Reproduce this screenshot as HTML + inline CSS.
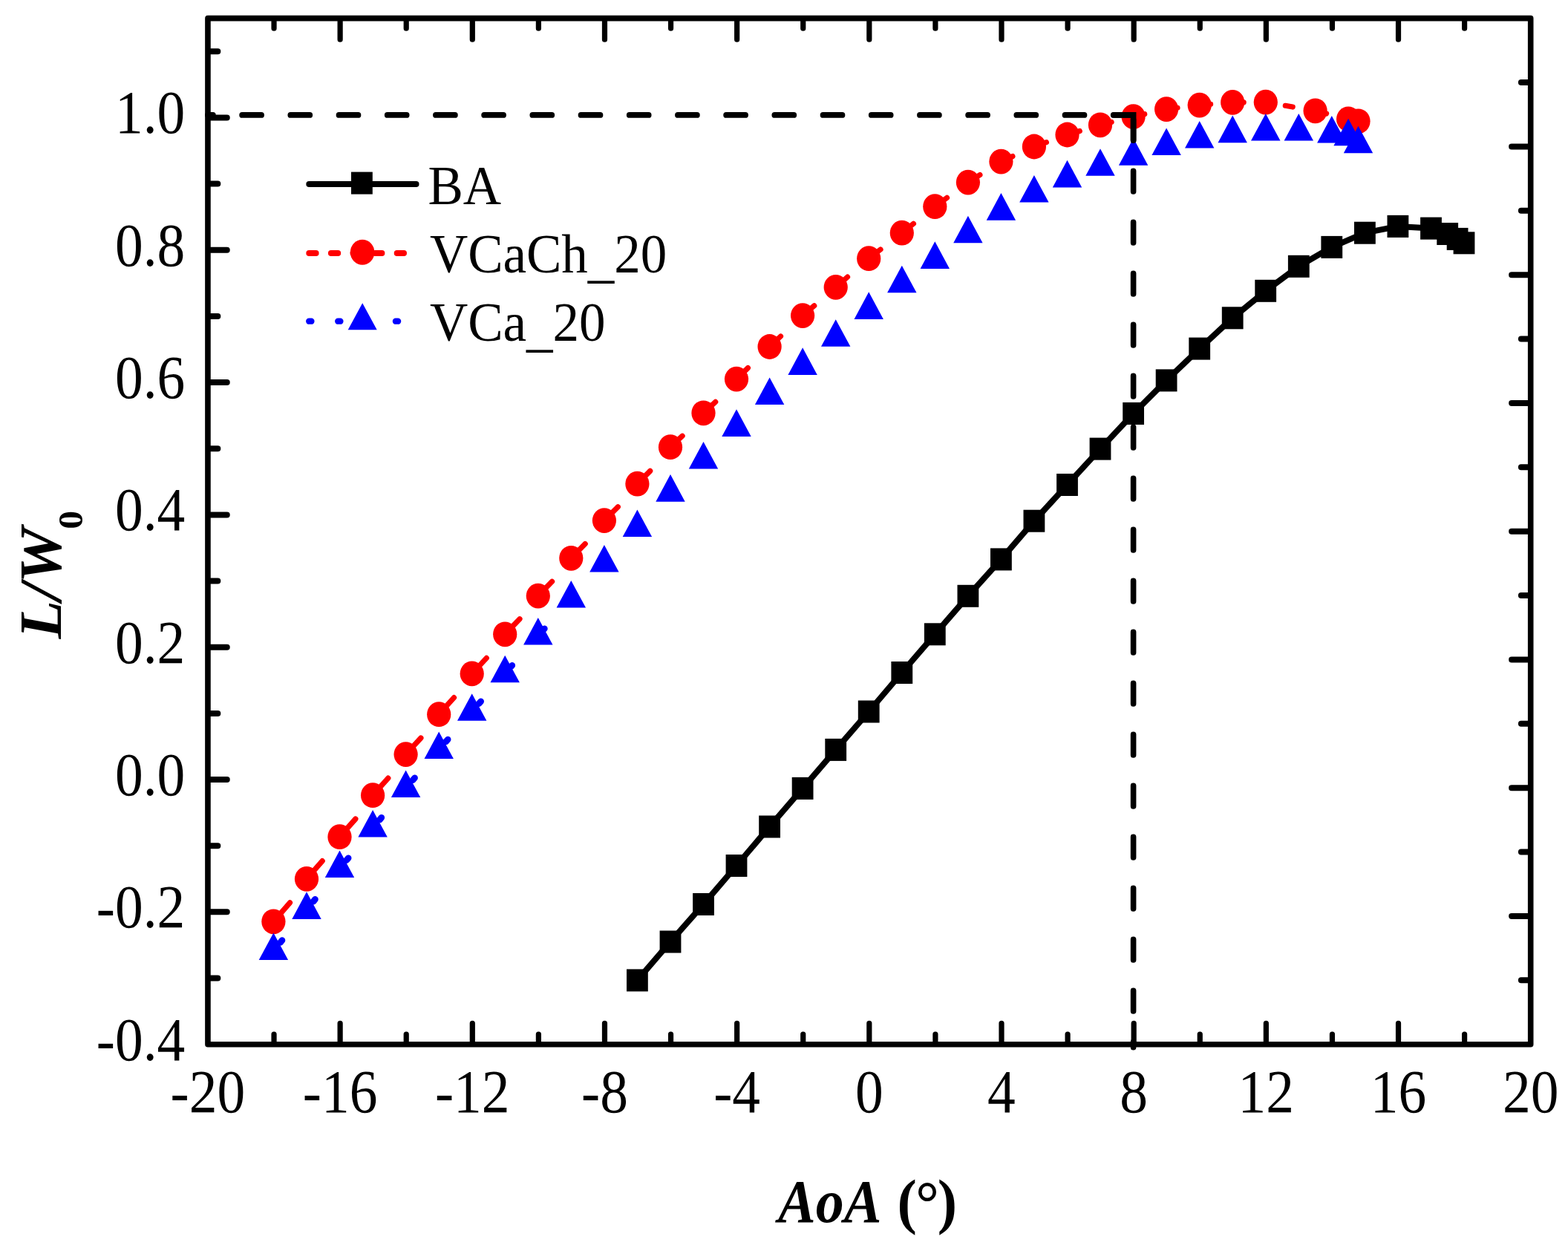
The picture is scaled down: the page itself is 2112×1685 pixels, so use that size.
<!DOCTYPE html><html><head><meta charset="utf-8"><title>L/W0 vs AoA</title><style>html,body{margin:0;padding:0;background:#fff;}svg{display:block;}text{font-family:"Liberation Serif","Times New Roman",serif;}</style></head><body>
<svg width="2112" height="1685" viewBox="0 0 2112 1685">
<rect x="0" y="0" width="2112" height="1685" fill="#fff"/>
<polyline points="858.4,1320.4 903.0,1268.5 947.5,1218.0 992.0,1166.0 1036.6,1113.5 1081.1,1061.9 1125.7,1009.9 1170.2,958.5 1214.8,906.0 1259.3,854.3 1303.9,802.8 1348.4,753.4 1392.9,701.7 1437.5,653.0 1482.0,604.6 1526.6,557.0 1571.1,512.4 1615.7,469.6 1660.2,428.3 1704.8,391.8 1749.3,358.8 1793.8,332.9 1838.4,313.7 1882.9,304.9 1927.5,307.6 1949.7,315.0 1963.1,321.9 1972.0,327.3" fill="none" stroke="#000" stroke-width="8" stroke-linejoin="round"/>
<line x1="368.4" y1="1241.3" x2="390.5" y2="1215.8" stroke="#f00" stroke-width="7.2" stroke-linecap="round"/>
<line x1="413.0" y1="1183.9" x2="434.2" y2="1159.6" stroke="#f00" stroke-width="7.2" stroke-linecap="round"/>
<line x1="457.5" y1="1127.2" x2="478.9" y2="1103.0" stroke="#f00" stroke-width="7.2" stroke-linecap="round"/>
<line x1="502.1" y1="1071.2" x2="522.8" y2="1048.1" stroke="#f00" stroke-width="7.2" stroke-linecap="round"/>
<line x1="546.6" y1="1016.1" x2="566.9" y2="994.0" stroke="#f00" stroke-width="7.2" stroke-linecap="round"/>
<line x1="591.2" y1="962.2" x2="611.5" y2="939.6" stroke="#f00" stroke-width="7.2" stroke-linecap="round"/>
<line x1="635.7" y1="907.4" x2="655.3" y2="886.4" stroke="#f00" stroke-width="7.2" stroke-linecap="round"/>
<line x1="680.2" y1="854.3" x2="700.0" y2="833.7" stroke="#f00" stroke-width="7.2" stroke-linecap="round"/>
<line x1="724.8" y1="802.6" x2="743.6" y2="783.3" stroke="#f00" stroke-width="7.2" stroke-linecap="round"/>
<line x1="769.3" y1="751.8" x2="788.2" y2="732.5" stroke="#f00" stroke-width="7.2" stroke-linecap="round"/>
<line x1="813.9" y1="701.1" x2="832.3" y2="682.7" stroke="#f00" stroke-width="7.2" stroke-linecap="round"/>
<line x1="858.4" y1="651.7" x2="875.7" y2="634.4" stroke="#f00" stroke-width="7.2" stroke-linecap="round"/>
<line x1="903.0" y1="602.2" x2="919.1" y2="587.2" stroke="#f00" stroke-width="7.2" stroke-linecap="round"/>
<line x1="947.5" y1="556.3" x2="963.7" y2="541.4" stroke="#f00" stroke-width="7.2" stroke-linecap="round"/>
<line x1="992.0" y1="510.6" x2="1007.4" y2="495.6" stroke="#f00" stroke-width="7.2" stroke-linecap="round"/>
<line x1="1036.6" y1="467.0" x2="1051.5" y2="453.0" stroke="#f00" stroke-width="7.2" stroke-linecap="round"/>
<line x1="1081.1" y1="425.1" x2="1096.7" y2="411.8" stroke="#f00" stroke-width="7.2" stroke-linecap="round"/>
<line x1="1125.7" y1="386.9" x2="1141.5" y2="373.1" stroke="#f00" stroke-width="7.2" stroke-linecap="round"/>
<line x1="1170.2" y1="348.2" x2="1186.0" y2="336.0" stroke="#f00" stroke-width="7.2" stroke-linecap="round"/>
<line x1="1214.8" y1="313.7" x2="1230.4" y2="301.2" stroke="#f00" stroke-width="7.2" stroke-linecap="round"/>
<line x1="1259.3" y1="278.2" x2="1275.5" y2="266.4" stroke="#f00" stroke-width="7.2" stroke-linecap="round"/>
<line x1="1303.9" y1="245.6" x2="1319.9" y2="235.5" stroke="#f00" stroke-width="7.2" stroke-linecap="round"/>
<line x1="1348.4" y1="217.6" x2="1363.9" y2="210.6" stroke="#f00" stroke-width="7.2" stroke-linecap="round"/>
<line x1="1392.9" y1="197.5" x2="1409.4" y2="191.6" stroke="#f00" stroke-width="7.2" stroke-linecap="round"/>
<line x1="1437.5" y1="181.5" x2="1454.3" y2="176.5" stroke="#f00" stroke-width="7.2" stroke-linecap="round"/>
<line x1="1482.0" y1="168.3" x2="1497.1" y2="164.5" stroke="#f00" stroke-width="7.2" stroke-linecap="round"/>
<line x1="1526.6" y1="157.1" x2="1541.7" y2="153.7" stroke="#f00" stroke-width="7.2" stroke-linecap="round"/>
<line x1="1571.1" y1="147.1" x2="1586.0" y2="145.3" stroke="#f00" stroke-width="7.2" stroke-linecap="round"/>
<line x1="1615.7" y1="141.6" x2="1630.6" y2="140.4" stroke="#f00" stroke-width="7.2" stroke-linecap="round"/>
<line x1="1660.2" y1="137.9" x2="1675.2" y2="137.8" stroke="#f00" stroke-width="7.2" stroke-linecap="round"/>
<line x1="1731.3" y1="142.3" x2="1741.2" y2="144.0" stroke="#f00" stroke-width="7.2" stroke-linecap="round"/>
<line x1="1771.6" y1="149.3" x2="1786.6" y2="153.0" stroke="#f00" stroke-width="7.2" stroke-linecap="round"/>
<line x1="377.6" y1="1269.4" x2="380.0" y2="1266.5" stroke="#00f" stroke-width="8.6" stroke-linecap="round"/>
<line x1="422.1" y1="1214.3" x2="424.5" y2="1211.3" stroke="#00f" stroke-width="8.6" stroke-linecap="round"/>
<line x1="466.8" y1="1158.6" x2="469.2" y2="1155.7" stroke="#00f" stroke-width="8.6" stroke-linecap="round"/>
<line x1="511.4" y1="1104.2" x2="513.8" y2="1101.2" stroke="#00f" stroke-width="8.6" stroke-linecap="round"/>
<line x1="556.1" y1="1050.7" x2="558.6" y2="1047.8" stroke="#00f" stroke-width="8.6" stroke-linecap="round"/>
<line x1="600.7" y1="998.9" x2="603.2" y2="996.0" stroke="#00f" stroke-width="8.6" stroke-linecap="round"/>
<line x1="645.3" y1="947.6" x2="647.7" y2="944.7" stroke="#00f" stroke-width="8.6" stroke-linecap="round"/>
<line x1="688.5" y1="897.7" x2="689.8" y2="896.2" stroke="#00f" stroke-width="8.6" stroke-linecap="round"/>
<line x1="732.1" y1="848.2" x2="733.4" y2="846.7" stroke="#00f" stroke-width="8.6" stroke-linecap="round"/>
<rect x="844.0" y="1305.4" width="28.8" height="30.0" fill="#000"/>
<rect x="888.6" y="1253.5" width="28.8" height="30.0" fill="#000"/>
<rect x="933.1" y="1203.0" width="28.8" height="30.0" fill="#000"/>
<rect x="977.6" y="1151.0" width="28.8" height="30.0" fill="#000"/>
<rect x="1022.2" y="1098.5" width="28.8" height="30.0" fill="#000"/>
<rect x="1066.7" y="1046.9" width="28.8" height="30.0" fill="#000"/>
<rect x="1111.3" y="994.9" width="28.8" height="30.0" fill="#000"/>
<rect x="1155.8" y="943.5" width="28.8" height="30.0" fill="#000"/>
<rect x="1200.4" y="891.0" width="28.8" height="30.0" fill="#000"/>
<rect x="1244.9" y="839.3" width="28.8" height="30.0" fill="#000"/>
<rect x="1289.5" y="787.8" width="28.8" height="30.0" fill="#000"/>
<rect x="1334.0" y="738.4" width="28.8" height="30.0" fill="#000"/>
<rect x="1378.5" y="686.7" width="28.8" height="30.0" fill="#000"/>
<rect x="1423.1" y="638.0" width="28.8" height="30.0" fill="#000"/>
<rect x="1467.6" y="589.6" width="28.8" height="30.0" fill="#000"/>
<rect x="1512.2" y="542.0" width="28.8" height="30.0" fill="#000"/>
<rect x="1556.7" y="497.4" width="28.8" height="30.0" fill="#000"/>
<rect x="1601.3" y="454.6" width="28.8" height="30.0" fill="#000"/>
<rect x="1645.8" y="413.3" width="28.8" height="30.0" fill="#000"/>
<rect x="1690.3" y="376.8" width="28.8" height="30.0" fill="#000"/>
<rect x="1734.9" y="343.8" width="28.8" height="30.0" fill="#000"/>
<rect x="1779.4" y="317.9" width="28.8" height="30.0" fill="#000"/>
<rect x="1824.0" y="298.7" width="28.8" height="30.0" fill="#000"/>
<rect x="1868.5" y="289.9" width="28.8" height="30.0" fill="#000"/>
<rect x="1913.1" y="292.6" width="28.8" height="30.0" fill="#000"/>
<rect x="1935.3" y="300.0" width="28.8" height="30.0" fill="#000"/>
<rect x="1948.7" y="306.9" width="28.8" height="30.0" fill="#000"/>
<rect x="1957.6" y="312.3" width="28.8" height="30.0" fill="#000"/>
<ellipse cx="368.4" cy="1241.3" rx="16.1" ry="16.9" fill="#f00"/>
<ellipse cx="413.0" cy="1183.9" rx="16.1" ry="16.9" fill="#f00"/>
<ellipse cx="457.5" cy="1127.2" rx="16.1" ry="16.9" fill="#f00"/>
<ellipse cx="502.1" cy="1071.2" rx="16.1" ry="16.9" fill="#f00"/>
<ellipse cx="546.6" cy="1016.1" rx="16.1" ry="16.9" fill="#f00"/>
<ellipse cx="591.2" cy="962.2" rx="16.1" ry="16.9" fill="#f00"/>
<ellipse cx="635.7" cy="907.4" rx="16.1" ry="16.9" fill="#f00"/>
<ellipse cx="680.2" cy="854.3" rx="16.1" ry="16.9" fill="#f00"/>
<ellipse cx="724.8" cy="802.6" rx="16.1" ry="16.9" fill="#f00"/>
<ellipse cx="769.3" cy="751.8" rx="16.1" ry="16.9" fill="#f00"/>
<ellipse cx="813.9" cy="701.1" rx="16.1" ry="16.9" fill="#f00"/>
<ellipse cx="858.4" cy="651.7" rx="16.1" ry="16.9" fill="#f00"/>
<ellipse cx="903.0" cy="602.2" rx="16.1" ry="16.9" fill="#f00"/>
<ellipse cx="947.5" cy="556.3" rx="16.1" ry="16.9" fill="#f00"/>
<ellipse cx="992.0" cy="510.6" rx="16.1" ry="16.9" fill="#f00"/>
<ellipse cx="1036.6" cy="467.0" rx="16.1" ry="16.9" fill="#f00"/>
<ellipse cx="1081.1" cy="425.1" rx="16.1" ry="16.9" fill="#f00"/>
<ellipse cx="1125.7" cy="386.9" rx="16.1" ry="16.9" fill="#f00"/>
<ellipse cx="1170.2" cy="348.2" rx="16.1" ry="16.9" fill="#f00"/>
<ellipse cx="1214.8" cy="313.7" rx="16.1" ry="16.9" fill="#f00"/>
<ellipse cx="1259.3" cy="278.2" rx="16.1" ry="16.9" fill="#f00"/>
<ellipse cx="1303.9" cy="245.6" rx="16.1" ry="16.9" fill="#f00"/>
<ellipse cx="1348.4" cy="217.6" rx="16.1" ry="16.9" fill="#f00"/>
<ellipse cx="1392.9" cy="197.5" rx="16.1" ry="16.9" fill="#f00"/>
<ellipse cx="1437.5" cy="181.5" rx="16.1" ry="16.9" fill="#f00"/>
<ellipse cx="1482.0" cy="168.3" rx="16.1" ry="16.9" fill="#f00"/>
<ellipse cx="1526.6" cy="157.1" rx="16.1" ry="16.9" fill="#f00"/>
<ellipse cx="1571.1" cy="147.1" rx="16.1" ry="16.9" fill="#f00"/>
<ellipse cx="1615.7" cy="141.6" rx="16.1" ry="16.9" fill="#f00"/>
<ellipse cx="1660.2" cy="137.9" rx="16.1" ry="16.9" fill="#f00"/>
<ellipse cx="1704.8" cy="137.6" rx="16.1" ry="16.9" fill="#f00"/>
<ellipse cx="1771.6" cy="149.3" rx="16.1" ry="16.9" fill="#f00"/>
<ellipse cx="1816.1" cy="160.4" rx="16.1" ry="16.9" fill="#f00"/>
<ellipse cx="1829.5" cy="163.3" rx="16.1" ry="16.9" fill="#f00"/>
<polygon points="368.4,1256.4 388.1,1293.0 348.7,1293.0" fill="#00f"/>
<polygon points="413.0,1201.3 432.7,1237.9 393.3,1237.9" fill="#00f"/>
<polygon points="457.5,1145.5 477.2,1182.1 437.8,1182.1" fill="#00f"/>
<polygon points="502.1,1091.0 521.8,1127.6 482.4,1127.6" fill="#00f"/>
<polygon points="546.6,1037.4 566.3,1074.0 526.9,1074.0" fill="#00f"/>
<polygon points="591.2,985.5 610.9,1022.1 571.5,1022.1" fill="#00f"/>
<polygon points="635.7,934.2 655.4,970.8 616.0,970.8" fill="#00f"/>
<polygon points="680.2,882.7 699.9,919.3 660.5,919.3" fill="#00f"/>
<polygon points="724.8,832.0 744.5,868.6 705.1,868.6" fill="#00f"/>
<polygon points="769.3,782.0 789.0,818.6 749.6,818.6" fill="#00f"/>
<polygon points="813.9,733.9 833.6,770.5 794.2,770.5" fill="#00f"/>
<polygon points="858.4,686.5 878.1,723.1 838.7,723.1" fill="#00f"/>
<polygon points="903.0,639.1 922.7,675.7 883.3,675.7" fill="#00f"/>
<polygon points="947.5,595.0 967.2,631.6 927.8,631.6" fill="#00f"/>
<polygon points="992.0,551.3 1011.7,587.9 972.3,587.9" fill="#00f"/>
<polygon points="1036.6,508.5 1056.3,545.1 1016.9,545.1" fill="#00f"/>
<polygon points="1081.1,468.3 1100.8,504.9 1061.4,504.9" fill="#00f"/>
<polygon points="1125.7,430.2 1145.4,466.8 1106.0,466.8" fill="#00f"/>
<polygon points="1170.2,393.3 1189.9,429.9 1150.5,429.9" fill="#00f"/>
<polygon points="1214.8,357.7 1234.5,394.3 1195.1,394.3" fill="#00f"/>
<polygon points="1259.3,325.3 1279.0,361.9 1239.6,361.9" fill="#00f"/>
<polygon points="1303.9,290.7 1323.6,327.3 1284.2,327.3" fill="#00f"/>
<polygon points="1348.4,260.1 1368.1,296.7 1328.7,296.7" fill="#00f"/>
<polygon points="1392.9,236.0 1412.6,272.6 1373.2,272.6" fill="#00f"/>
<polygon points="1437.5,215.8 1457.2,252.4 1417.8,252.4" fill="#00f"/>
<polygon points="1482.0,200.2 1501.7,236.8 1462.3,236.8" fill="#00f"/>
<polygon points="1526.6,186.1 1546.3,222.7 1506.9,222.7" fill="#00f"/>
<polygon points="1571.1,172.4 1590.8,209.0 1551.4,209.0" fill="#00f"/>
<polygon points="1615.7,162.9 1635.4,199.5 1596.0,199.5" fill="#00f"/>
<polygon points="1660.2,155.6 1679.9,192.2 1640.5,192.2" fill="#00f"/>
<polygon points="1704.8,152.9 1724.5,189.5 1685.0,189.5" fill="#00f"/>
<polygon points="1749.3,152.9 1769.0,189.5 1729.6,189.5" fill="#00f"/>
<polygon points="1793.8,155.9 1813.5,192.5 1774.1,192.5" fill="#00f"/>
<polygon points="1816.1,159.7 1835.8,196.3 1796.4,196.3" fill="#00f"/>
<polygon points="1829.5,169.7 1849.2,206.3 1809.8,206.3" fill="#00f"/>
<line x1="279.95" y1="154.9" x2="1526.6" y2="154.9" stroke="#000" stroke-width="7.8" stroke-linecap="round" stroke-dasharray="25.9 39.3" stroke-dashoffset="19"/>
<path d="M1500.7,154.9H1526.6V188.9" fill="none" stroke="#000" stroke-width="7.7" stroke-linecap="round" stroke-linejoin="miter"/>
<line x1="1526.6" y1="154.9" x2="1526.6" y2="1410.8" stroke="#000" stroke-width="7.6" stroke-linecap="round" stroke-dasharray="27.7 41.3" stroke-dashoffset="62.7"/>
<rect x="279.95" y="24.65" width="1781.75" height="1382.05" fill="none" stroke="#000" stroke-width="7.6" stroke-linejoin="round"/>
<path d="M458.12,1402.7V1378.30M458.12,28.65V53.25M636.30,1402.7V1378.30M636.30,28.65V53.25M814.47,1402.7V1378.30M814.47,28.65V53.25M992.65,1402.7V1378.30M992.65,28.65V53.25M1170.82,1402.7V1378.30M1170.82,28.65V53.25M1349.00,1402.7V1378.30M1349.00,28.65V53.25M1527.17,1402.7V1378.30M1527.17,28.65V53.25M1705.35,1402.7V1378.30M1705.35,28.65V53.25M1883.52,1402.7V1378.30M1883.52,28.65V53.25M369.04,1402.7V1393.10M369.04,28.65V38.25M547.21,1402.7V1393.10M547.21,28.65V38.25M725.39,1402.7V1393.10M725.39,28.65V38.25M903.56,1402.7V1393.10M903.56,28.65V38.25M1081.74,1402.7V1393.10M1081.74,28.65V38.25M1259.91,1402.7V1393.10M1259.91,28.65V38.25M1438.09,1402.7V1393.10M1438.09,28.65V38.25M1616.26,1402.7V1393.10M1616.26,28.65V38.25M1794.44,1402.7V1393.10M1794.44,28.65V38.25M1972.61,1402.7V1393.10M1972.61,28.65V38.25" stroke="#000" stroke-width="7.2" stroke-linecap="round" fill="none"/>
<path d="M283.95,1228.37H305.75M283.95,1050.04H305.75M283.95,871.71H305.75M283.95,693.38H305.75M283.95,515.05H305.75M283.95,336.73H305.75M283.95,158.40H305.75M283.95,1317.54H293.35M283.95,1139.21H293.35M283.95,960.88H293.35M283.95,782.55H293.35M283.95,604.22H293.35M283.95,425.89H293.35M283.95,247.56H293.35M283.95,69.23H293.35M2057.7,111.03H2048.90M2057.7,197.41H2036.10M2057.7,283.78H2048.90M2057.7,370.16H2036.10M2057.7,456.54H2048.90M2057.7,542.92H2036.10M2057.7,629.30H2048.90M2057.7,715.67H2036.10M2057.7,802.05H2048.90M2057.7,888.43H2036.10M2057.7,974.81H2048.90M2057.7,1061.19H2036.10M2057.7,1147.57H2048.90M2057.7,1233.94H2036.10M2057.7,1320.32H2048.90" stroke="#000" stroke-width="8" stroke-linecap="round" fill="none"/>
<text x="279.95" y="1362.18" transform="scale(1,1.1)" font-size="75.5" text-anchor="middle" >-20</text>
<text x="458.12" y="1362.18" transform="scale(1,1.1)" font-size="75.5" text-anchor="middle" >-16</text>
<text x="636.30" y="1362.18" transform="scale(1,1.1)" font-size="75.5" text-anchor="middle" >-12</text>
<text x="814.47" y="1362.18" transform="scale(1,1.1)" font-size="75.5" text-anchor="middle" >-8</text>
<text x="992.65" y="1362.18" transform="scale(1,1.1)" font-size="75.5" text-anchor="middle" >-4</text>
<text x="1170.82" y="1362.18" transform="scale(1,1.1)" font-size="75.5" text-anchor="middle" >0</text>
<text x="1349.00" y="1362.18" transform="scale(1,1.1)" font-size="75.5" text-anchor="middle" >4</text>
<text x="1527.17" y="1362.18" transform="scale(1,1.1)" font-size="75.5" text-anchor="middle" >8</text>
<text x="1705.35" y="1362.18" transform="scale(1,1.1)" font-size="75.5" text-anchor="middle" >12</text>
<text x="1883.52" y="1362.18" transform="scale(1,1.1)" font-size="75.5" text-anchor="middle" >16</text>
<text x="2061.70" y="1362.18" transform="scale(1,1.1)" font-size="75.5" text-anchor="middle" >20</text>
<text x="249.30" y="1297.82" transform="scale(1,1.1)" font-size="75.5" text-anchor="end" >-0.4</text>
<text x="249.30" y="1135.70" transform="scale(1,1.1)" font-size="75.5" text-anchor="end" >-0.2</text>
<text x="249.30" y="973.58" transform="scale(1,1.1)" font-size="75.5" text-anchor="end" >0.0</text>
<text x="249.30" y="811.47" transform="scale(1,1.1)" font-size="75.5" text-anchor="end" >0.2</text>
<text x="249.30" y="649.35" transform="scale(1,1.1)" font-size="75.5" text-anchor="end" >0.4</text>
<text x="249.30" y="487.23" transform="scale(1,1.1)" font-size="75.5" text-anchor="end" >0.6</text>
<text x="249.30" y="325.11" transform="scale(1,1.1)" font-size="75.5" text-anchor="end" >0.8</text>
<text x="249.30" y="163.00" transform="scale(1,1.1)" font-size="75.5" text-anchor="end" >1.0</text>
<line x1="416.3" y1="248" x2="560.5" y2="248" stroke="#000" stroke-width="8" stroke-linecap="round"/>
<rect x="473.0" y="231.6" width="28.8" height="30" fill="#000"/>
<line x1="416.3" y1="340.9" x2="548" y2="340.9" stroke="#f00" stroke-width="8" stroke-linecap="round" stroke-dasharray="9.3 20.3"/>
<ellipse cx="488.1" cy="339.7" rx="16.3" ry="17" fill="#f00"/>
<line x1="416.2" y1="432.7" x2="419.40000000000003" y2="432.7" stroke="#00f" stroke-width="8.3" stroke-linecap="round"/>
<line x1="455.2" y1="432.7" x2="458.40000000000003" y2="432.7" stroke="#00f" stroke-width="8.3" stroke-linecap="round"/>
<line x1="532.9" y1="432.7" x2="536.1" y2="432.7" stroke="#00f" stroke-width="8.3" stroke-linecap="round"/>
<polygon points="488.2,408.3 507.7,444.3 468.7,444.3" fill="#00f"/>
<text x="576.40" y="261.90" transform="scale(1,1.05)" font-size="71" text-anchor="start" >BA</text>
<text x="578.90" y="349.24" transform="scale(1,1.05)" font-size="71" text-anchor="start" >VCaCh<tspan dy="5.5">_</tspan><tspan dy="-5.5">20</tspan></text>
<text x="578.90" y="437.14" transform="scale(1,1.05)" font-size="71" text-anchor="start" >VCa<tspan dy="5.5">_</tspan><tspan dy="-5.5">20</tspan></text>
<text x="1048" y="1523.98" transform="scale(1,1.08)" font-size="76" font-weight="bold" font-style="italic">AoA</text>
<text x="1162.02" y="1523.98" transform="scale(1.04,1.08)" font-size="76" font-weight="bold">(<tspan dx="-1.5" dy="1.9">°</tspan><tspan dx="-2" dy="-1.9">)</tspan></text>
<g transform="translate(82.3,860.4) rotate(-90)"><text x="0" y="0" transform="scale(1.053,1)" font-size="80" font-weight="bold"><tspan font-style="italic">L/W</tspan><tspan font-size="47.4" dx="-1.9" dy="28.7">0</tspan></text></g>
</svg></body></html>
